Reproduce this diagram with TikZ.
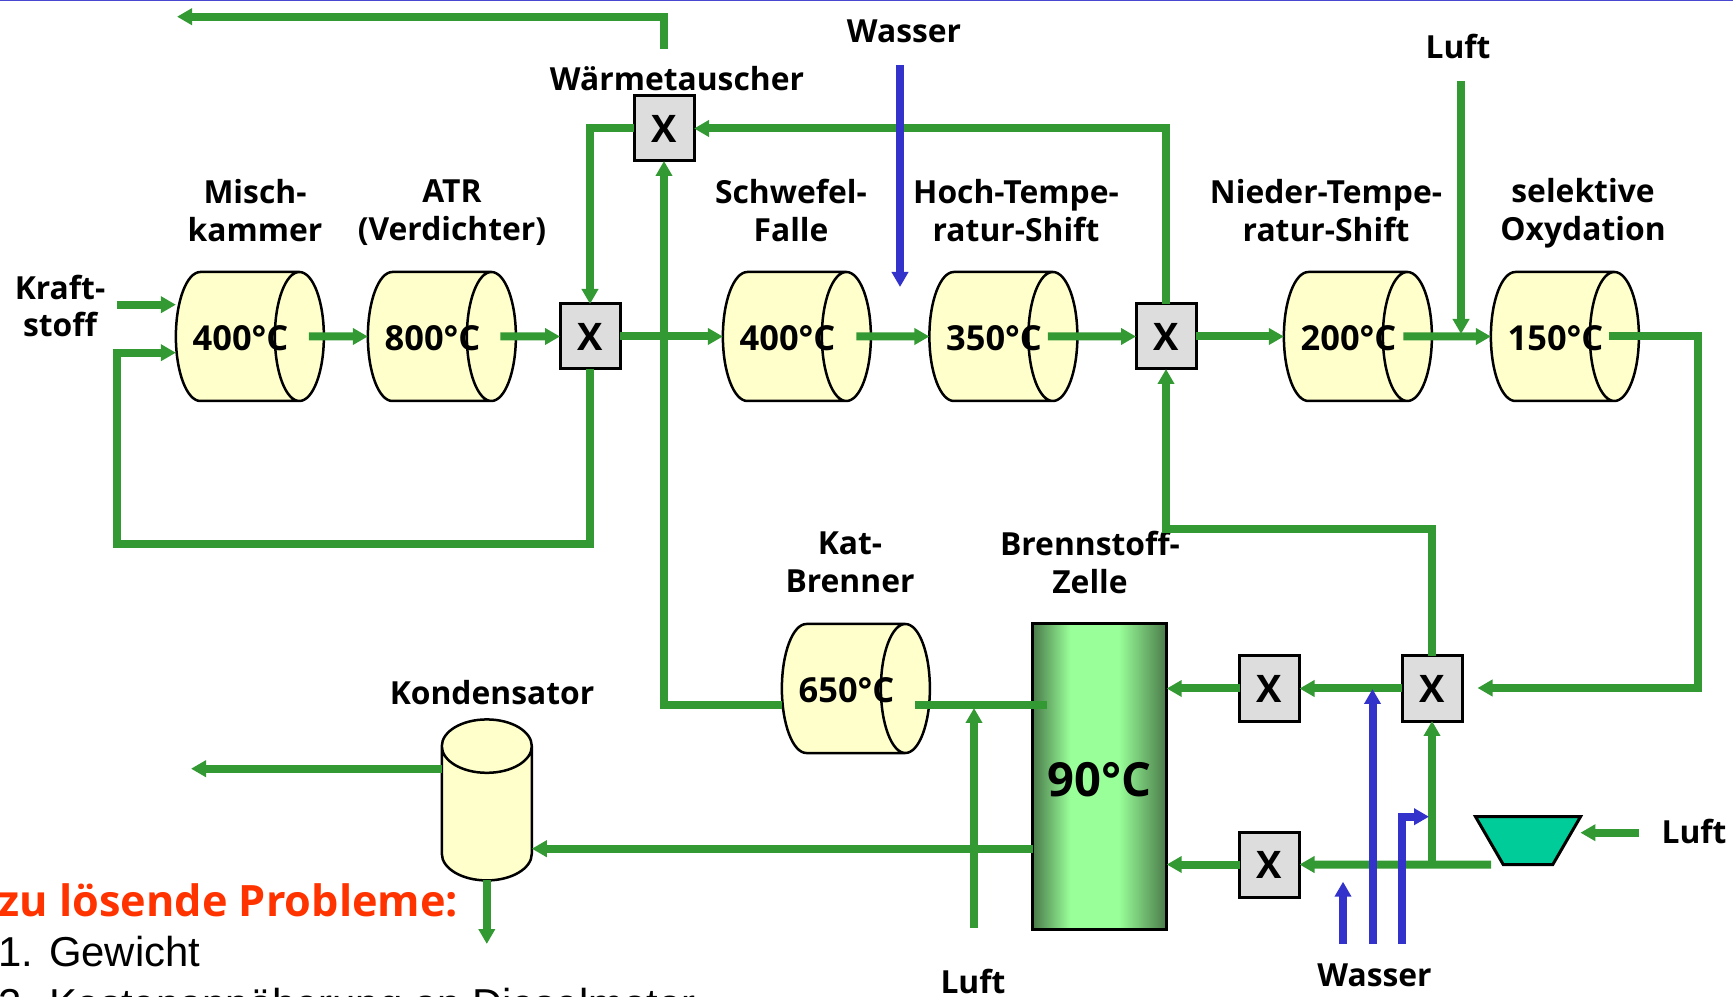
\documentclass[tikz,border=0pt]{standalone}
\usepackage{fontspec}
\setmainfont{Open Sans}
\newfontfamily\listfont{Liberation Sans}
\usetikzlibrary{shapes.geometric,arrows.meta,calc,positioning}

\definecolor{flowgreen}{HTML}{339933}
\definecolor{waterblue}{HTML}{3333CC}
\definecolor{vesselfill}{HTML}{FFFFCC}
\definecolor{boxgrey}{HTML}{DDDDDD}
\definecolor{stackdark}{HTML}{4A7A4A}
\definecolor{stacklight}{HTML}{99FF99}
\definecolor{compfill}{HTML}{00CC99}
\definecolor{problemred}{HTML}{FF3300}
\pgfdeclarehorizontalshading{stackshade}{100bp}{color(0bp)=(stackdark); color(25bp)=(stackdark); color(39bp)=(stacklight); color(57bp)=(stacklight); color(75bp)=(stackdark); color(100bp)=(stackdark)}
\newcommand{\tempc}[1]{\makebox[0pt]{\hspace{0.07cm}#1}}

\tikzset{
	flowline/.style={draw=flowgreen,line width=0.08cm},
	flow/.style={flowline,-{Triangle[length=0.15cm,width=0.16cm]}},
	waterline/.style={draw=waterblue,line width=0.08cm},
	water/.style={waterline,-{Triangle[length=0.15cm,width=0.16cm]}},
	reactor/.style={cylinder,draw,line width=0.025cm,fill=vesselfill,cylinder uses custom fill,cylinder body fill=vesselfill,cylinder end fill=vesselfill,aspect=1.75,minimum width=1.29cm,minimum height=1.48cm,inner sep=0pt,outer sep=0pt,text height=0.28cm,text depth=0pt,font=\bfseries\fontsize{9.8}{11}\selectfont},
	mixer/.style={rectangle,draw,line width=0.03cm,fill=boxgrey,minimum width=0.6cm,minimum height=0.65cm,inner sep=0pt,outer sep=0pt,font=\bfseries\fontsize{10.8}{12}\selectfont},
	caption/.style={align=center,inner sep=0pt,font=\bfseries\fontsize{9.05}{10.8}\selectfont},
}

\begin{document}
\begin{tikzpicture}
	\useasboundingbox (0,0) rectangle (17.33,9.96);
	\clip (0,0) rectangle (17.33,9.96);
	\fill[fill=waterblue!90!white] (0,9.945) rectangle (17.33,9.96);

	\node (misch) at (2.37,6.595) [reactor] {\tempc{400°C}};
	\node (atr) at (4.29,6.595) [reactor] {\tempc{800°C}};
	\node (schwefel) at (7.84,6.595) [reactor] {\tempc{400°C}};
	\node (hoch) at (9.905,6.595) [reactor] {\tempc{350°C}};
	\node (nieder) at (13.45,6.595) [reactor] {\tempc{200°C}};
	\node (selektiv) at (15.52,6.595) [reactor] {\tempc{150°C}};
	\node (kat) at (8.43,3.075) [reactor] {\tempc{650°C}};

	\node (wt) at (6.64,8.675) [mixer] {X};
	\node (xatr) at (5.90,6.595) [mixer] {X};
	\node (xhoch) at (11.66,6.595) [mixer] {X};
	\node (xstack) at (12.695,3.075) [mixer] {X};
	\node (xret) at (14.32,3.075) [mixer] {X};
	\node (xluft) at (12.695,1.315) [mixer] {X};

	\node (stack) at (10.997,2.195) [rectangle,draw,line width=0.03cm,shading=stackshade,minimum width=1.34cm,minimum height=3.05cm,inner sep=0pt,outer sep=0pt,text height=0.393cm,text depth=0pt,font=\bfseries\fontsize{13.4}{15}\selectfont] {90°C};
	\node (kond) at (4.868,1.821) [cylinder,shape border rotate=90,draw,line width=0.025cm,fill=vesselfill,cylinder uses custom fill,cylinder body fill=vesselfill,cylinder end fill=vesselfill,aspect=1,minimum width=0.9cm,minimum height=1.61cm,inner sep=0pt,outer sep=0pt] {\hspace*{0.534cm}};
	\node (comp) at (15.28,1.553) [trapezium,trapezium stretches=true,shape border rotate=180,trapezium left angle=60.6,trapezium right angle=60.6,draw,line width=0.03cm,fill=compfill,minimum width=1.05cm,minimum height=0.48cm,inner sep=1pt,outer sep=0pt] {};

	\node (tWasser) at (9.04,9.65) [caption] {Wasser};
	\node (tLuft) at (14.58,9.49) [caption] {Luft};
	\node (tWt) at (6.77,9.17) [caption] {Wärmetauscher};
	\node (tMisch) at (2.55,7.856) [caption] {Misch-\\kammer};
	\node (tAtr) at (4.52,7.834) [caption] {ATR\\(Verdichter)};
	\node (tKraft) at (0.60,6.90) [caption] {Kraft-\\stoff};
	\node (tSchwefel) at (7.91,7.856) [caption] {Schwefel-\\Falle};
	\node (tHoch) at (10.16,7.856) [caption] {Hoch-Tempe-\\ratur-Shift};
	\node (tNieder) at (13.26,7.856) [caption] {Nieder-Tempe-\\ratur-Shift};
	\node (tSel) at (15.83,7.823) [caption] {selektive\\Oxydation};
	\node (tKat) at (8.50,4.337) [caption] {Kat-\\Brenner};
	\node (tBrenn) at (10.90,4.337) [caption] {Brennstoff-\\Zelle};
	\node (tKond) at (4.92,3.03) [caption] {Kondensator};
	\node (tLuftK) at (9.73,0.15) [caption] {Luft};
	\node (tWasserK) at (13.745,0.21) [caption] {Wasser};
	\node (tLuftC) at (16.94,1.65) [caption] {Luft};
	\node (tProb) at (-0.02,0.80) [anchor=base west,inner sep=0pt,text=problemred,font=\bfseries\fontsize{12.3}{14}\selectfont] {zu lösende Probleme:};
	\node (tEins) at (-0.02,0.30) [anchor=base west,inner sep=0pt,font=\listfont\fontsize{11.9}{13}\selectfont] {1. Gewicht};
	\node (tZwei) at (-0.02,-0.22) [anchor=base west,inner sep=0pt,font=\listfont\fontsize{11.9}{13}\selectfont] {2. Kostenannäherung an Dieselmotor};

	\coordinate (kraftin) at (1.17,6.913);
	\coordinate (loopin) at (1.17,6.433);
	\coordinate (loopbot) at (1.17,4.52);
	\coordinate (exhtop) at (6.64,9.47);
	\coordinate (exhend) at (1.77,9.793);
	\coordinate (katout) at (9.15,2.913);
	\coordinate (katend) at (10.47,2.913);
	\coordinate (luftin) at (9.74,0.68);
	\coordinate (luftup) at (9.74,2.88);
	\coordinate (fcout) at (10.33,1.473);
	\coordinate (kondout) at (4.42,2.273);
	\coordinate (kondend) at (1.91,2.273);
	\coordinate (kondab) at (4.868,0.52);
	\coordinate (rtn) at (16.98,3.08);
	\coordinate (rtnend) at (14.775,3.08);
	\coordinate (knick) at (14.32,4.67);
	\coordinate (compout) at (14.91,1.313);
	\coordinate (compin) at (16.39,1.633);
	\coordinate (compein) at (15.804,1.633);
	\coordinate (wasserA) at (13.43,0.52);
	\coordinate (wasserAe) at (13.43,1.143);
	\coordinate (wasserB) at (13.725,0.52);
	\coordinate (wasserBe) at (13.725,3.07);
	\coordinate (wasserC) at (14.02,0.52);
	\coordinate (wasserCk) at (14.02,1.793);
	\coordinate (wasserCe) at (14.29,1.793);
	\coordinate (wasserT) at (9.00,9.31);
	\coordinate (wasserTe) at (9.00,7.09);
	\coordinate (luftT) at (14.61,9.15);
	\coordinate (luftTe) at (14.61,6.62);

	\draw[flow] (kraftin) -- (kraftin -| misch.west);
	\draw[flow] (xatr.south) |- (loopbot) -- (loopin) -- (loopin -| misch.west);
	\draw[flow] ([xshift=-0.15cm]misch.east) -- (atr.west);
	\draw[flow] ([xshift=-0.155cm]atr.east) -- (xatr.west);
	\draw[flow] (xatr.east) -- (schwefel.west);
	\draw[flow] ([xshift=-0.145cm]schwefel.east) -- (hoch.west);
	\draw[flow] ([xshift=-0.295cm]hoch.east) -- (xhoch.west);
	\draw[flow] (xhoch.east) -- (nieder.west);
	\draw[flow] ([xshift=-0.285cm]nieder.east) -- (selektiv.west);
	\draw[flow] (wt.west) -| (xatr.north);
	\draw[flow] (xhoch.north) |- (wt.east);
	\draw[flow] ([yshift=-0.162cm]kat.west) -| (wt.south);
	\draw[flow] (exhtop) |- (exhend);
	\draw[flowline] (katout) -- (katend);
	\draw[flow] (luftin) -- (luftup);
	\draw[flow] (fcout) -- (fcout -| kond.east);
	\draw[flow] (kondout) -- (kondend);
	\draw[flow] (kond.south) -- (kondab);
	\draw[flow] ([xshift=-0.30cm]selektiv.east) -| (rtn) -- (rtnend);
	\draw[flow] (xret.west) -- (xstack.east);
	\draw[flow] (xstack.west) -- (xstack.west -| stack.east);
	\draw[flow] (xret.north) -- (knick) -| (xhoch.south);
	\draw[flow] (compout) -- (xluft.east);
	\draw[flow] (xluft.west) -- (xluft.west -| stack.east);
	\draw[flow] (xret.south |- compout) -- (xret.south);
	\draw[flow] (compin) -- (compein);
	\draw[flow] (luftT) -- (luftTe);

	\draw[water] (wasserT) -- (wasserTe);
	\draw[water] (wasserA) -- (wasserAe);
	\draw[water] (wasserB) -- (wasserBe);
	\draw[water] (wasserC) -- (wasserCk) -- (wasserCe);
\end{tikzpicture}
\end{document}
